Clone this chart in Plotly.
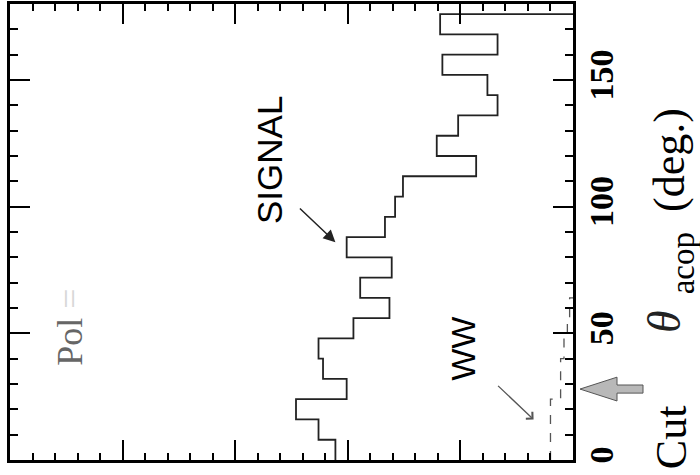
import numpy as np
import plotly.graph_objects as go

# Histogram binning in the acoplanarity angle (degrees)
BIN_WIDTH = 8
THETA_EDGES = list(range(0, 184, BIN_WIDTH))  # 0 .. 176

# Signal and WW background contents per bin
SIGNAL = [21.1, 22.6, 24.6, 20.1, 22.2, 22.6, 19.5, 16.3, 18.9, 16.1, 20.1,
          16.7, 15.8, 15.1, 8.6, 12.1, 10.2, 6.7, 7.6, 11.6, 6.7, 11.8]
WW = [2.0, 2.0, 2.0, 1.1, 1.1, 0.8, 0.5, 0.3]

THETA_TICKS = [0, 50, 100, 150]
THETA_TICK_TEXT = ["0", "50", "100", "150"]
CUT_THETA = 28

W, H = 700, 475
L, R, T, B = 10, 127, 1, 15
PW, PH = W - L - R, H - T - B


def px_x(p):
    return (p - L) / PW


def px_y(p):
    return (H - B - p) / PH


def steps(values):
    """Outline of a histogram lying along the vertical theta axis."""
    v = np.asarray(values, dtype=float)
    edges = np.asarray(THETA_EDGES[: len(v) + 1], dtype=float)
    xs = np.repeat(v, 2)
    ys = np.column_stack([edges[:-1], edges[1:]]).ravel()
    xs = np.append(xs, 0.0)
    ys = np.append(ys, edges[-1])
    return xs, ys


fig = go.Figure()

sx, sy = steps(SIGNAL)
fig.add_trace(go.Scatter(x=sx, y=sy, mode="lines",
                         line=dict(color="#222", width=1.8),
                         hoverinfo="skip", showlegend=False))

wx, wy = steps(WW)
fig.add_trace(go.Scatter(x=wx, y=wy, mode="lines",
                         line=dict(color="#555", width=1.3, dash="dash"),
                         hoverinfo="skip", showlegend=False))

fig.update_xaxes(range=[50, 0], showgrid=False, zeroline=False,
                 showline=True, linewidth=2.8, linecolor="black",
                 mirror="allticks", ticks="inside", ticklen=20, tickwidth=2,
                 tickcolor="black", tick0=0, dtick=10, showticklabels=False,
                 minor=dict(ticks="inside", tick0=0, dtick=2, ticklen=7,
                            tickwidth=1.5, tickcolor="black"))

fig.update_yaxes(range=[0, 180], side="right", showgrid=False, zeroline=False,
                 showline=True, linewidth=2.8, linecolor="black",
                 mirror="allticks", ticks="inside", ticklen=20, tickwidth=2,
                 tickcolor="black", tickmode="array", tickvals=THETA_TICKS,
                 ticktext=THETA_TICK_TEXT, tickangle=-90,
                 ticklabelstandoff=-4,
                 tickfont=dict(family="Liberation Serif", size=34,
                               color="black", weight="bold"),
                 minor=dict(ticks="inside", tick0=0, dtick=10, ticklen=8,
                            tickwidth=1.5, tickcolor="black"))

# Cut arrow beside the theta axis
hh, sh = 4.7, 1.6
x_tip, x_base, x_tail = px_x(580), px_x(617), px_x(643)
c = CUT_THETA
path = (f"M {x_tip},{c} L {x_base},{c + hh} L {x_base},{c + sh} "
        f"L {x_tail},{c + sh} L {x_tail},{c - sh} L {x_base},{c - sh} "
        f"L {x_base},{c - hh} Z")
fig.add_shape(type="path", path=path, xref="paper", yref="y",
              fillcolor="#b8b8b8", line=dict(color="#555", width=1))

serif = "Liberation Serif"
annotations = [
    dict(text="SIGNAL", x=px_x(270), y=px_y(158),
         font=dict(family="Liberation Sans", size=35, color="black")),
    dict(text="WW", x=px_x(463), y=px_y(348),
         font=dict(family="Liberation Sans", size=34, color="black")),
    dict(text="Pol <span style='color:#d8d8d8'>=</span>", x=px_x(70),
         y=px_y(327), font=dict(family=serif, size=36, color="#666")),
    # axis title: Cut θ_acop (deg.), set in pieces along the axis
    dict(text="Cut", x=px_x(671), y=px_y(437),
         font=dict(family=serif, size=44, color="black")),
    dict(text="<i>θ</i>", x=px_x(665), y=px_y(321),
         font=dict(family=serif, size=46, color="#222")),
    dict(text="acop", x=px_x(683), y=px_y(262),
         font=dict(family=serif, size=33, color="black")),
    dict(text="(deg.)", x=px_x(670), y=px_y(158),
         font=dict(family=serif, size=44, color="black")),
]
for a in annotations:
    fig.add_annotation(xref="paper", yref="paper", showarrow=False,
                       xanchor="center", yanchor="middle", textangle=-90,
                       **a)

# Pointer arrows to the two histograms
fig.add_annotation(x=SIGNAL[10] + 1.0, y=86, xref="x", yref="y", text="",
                   showarrow=True, ax=-37, ay=-35, arrowhead=2,
                   arrowsize=1.6, arrowwidth=1.5, arrowcolor="#222")
fig.add_annotation(x=3.5, y=16, xref="x", yref="y", text="",
                   showarrow=True, ax=-37, ay=-35, arrowhead=4,
                   arrowsize=1.4, arrowwidth=1.3, arrowcolor="#555")

fig.update_layout(width=W, height=H, margin=dict(l=L, r=R, t=T, b=B),
                  paper_bgcolor="white", plot_bgcolor="white")

fig.write_html("out.html")
